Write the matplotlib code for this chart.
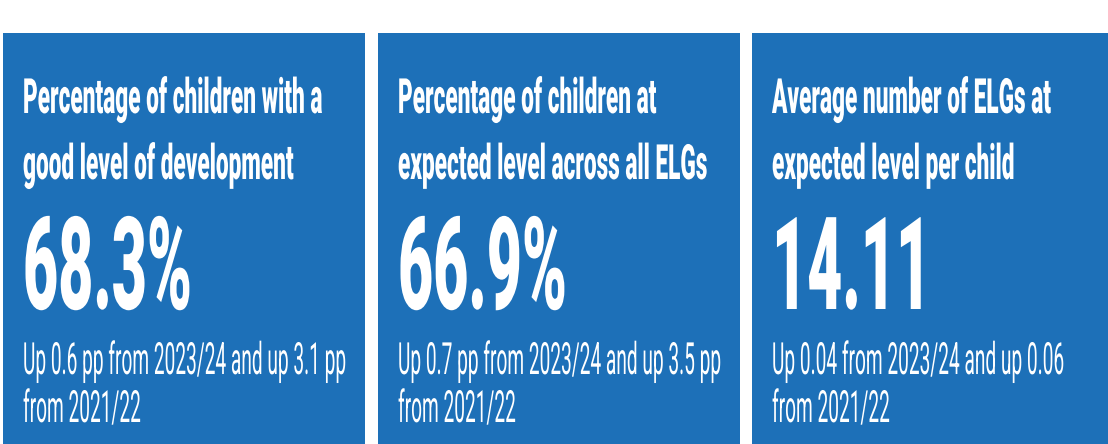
import matplotlib
matplotlib.use("Agg")
import matplotlib.pyplot as plt
from matplotlib import patheffects
from matplotlib.patches import Rectangle
from matplotlib.text import Text
from matplotlib.transforms import Affine2D, Bbox

# headline tiles
titles = [
    ["Percentage of children with a", "good level of development"],
    ["Percentage of children at", "expected level across all ELGs"],
    ["Average number of ELGs at", "expected level per child"],
]
values = ["68.3%", "66.9%", "14.11"]
changes = [
    ["Up 0.6 pp from 2023/24 and up 3.1 pp", "from 2021/22"],
    ["Up 0.7 pp from 2023/24 and up 3.5 pp", "from 2021/22"],
    ["Up 0.04 from 2023/24 and up 0.06", "from 2021/22"],
]

BLUE = "#1d70b8"
W, H = 1108, 444

plt.rcParams['font.family'] = ['Roboto', 'DejaVu Sans']


class Squeeze(patheffects.AbstractPathEffect):
    # narrow the glyphs horizontally around x0 (display px)
    def __init__(self, sx, x0):
        super().__init__()
        self.sx = sx
        self.x0 = x0

    def draw_path(self, renderer, gc, tpath, affine, rgbFace=None):
        sq = Affine2D().translate(-self.x0, 0).scale(self.sx, 1).translate(self.x0, 0)
        renderer.draw_path(gc, tpath, affine + sq, rgbFace)


class NarrowText(Text):
    # condensed text: glyphs squeezed, extent reported squeezed as well
    def __init__(self, *args, sx=1.0, **kw):
        super().__init__(*args, **kw)
        self.sx = sx

    def _x0(self):
        return self.get_transform().transform(self.get_unitless_position())[0]

    def draw(self, renderer):
        self.set_path_effects([Squeeze(self.sx, self._x0())])
        super().draw(renderer)

    def get_window_extent(self, renderer=None, dpi=None):
        bb = super().get_window_extent(renderer, dpi)
        x0 = self._x0()
        return Bbox.from_extents(x0 + (bb.x0 - x0) * self.sx, bb.y0,
                                 x0 + (bb.x1 - x0) * self.sx, bb.y1)


fig = plt.figure(figsize=(W / 100, H / 100), dpi=100)
ax = fig.add_axes([0, 0, 1, 1])
ax.set_xlim(0, W)
ax.set_ylim(H, 0)
ax.axis('off')


def put(x, y, s, size, weight, sx):
    t = NarrowText(x, y, s, fontsize=size, fontweight=weight, color='white',
                   ha='left', va='baseline', sx=sx)
    ax.add_artist(t)


tile_x = [3, 378, 752]
tile_w = 362
top = 33

for i in range(3):
    x = tile_x[i]
    ax.add_patch(Rectangle((x, top), tile_w, H - top, facecolor=BLUE,
                           edgecolor='none'))
    tx = x + 20
    for j, line in enumerate(titles[i]):
        put(tx, 113 + j * 66, line, 35, 'heavy', 0.465)
    put(tx, 309, values[i], 93, 'heavy', 0.47)
    for j, line in enumerate(changes[i]):
        put(tx, 374 + j * 48, line, 32, 'normal', 0.43)

fig.savefig('out.png', dpi=100)
